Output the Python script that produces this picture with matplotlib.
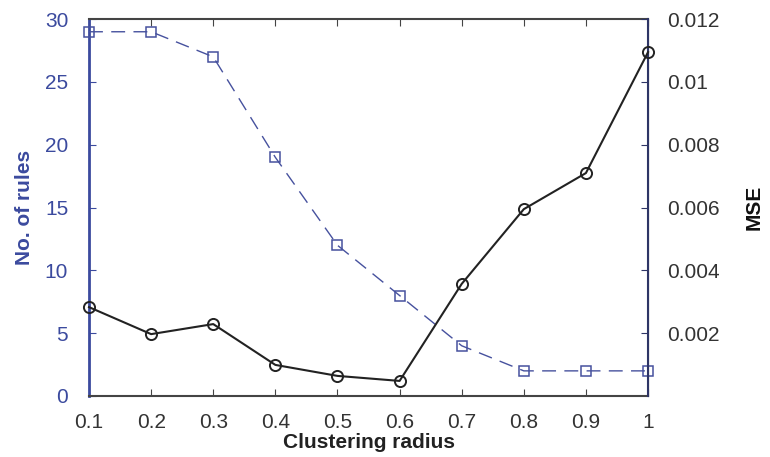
import numpy as np
import matplotlib
matplotlib.use('Agg')
import matplotlib.pyplot as plt

plt.rcParams['font.family'] = ['Liberation Sans', 'DejaVu Sans']

# dados
raio = [0.1, 0.2, 0.3, 0.4, 0.5, 0.6, 0.7, 0.8, 0.9, 1.0]
n_regras = [29, 29, 27, 19, 12, 8, 4, 2, 2, 2]
mse = [0.00283, 0.00197, 0.00229, 0.00099, 0.00064, 0.00048, 0.00357, 0.00595, 0.0071, 0.01095]
ticks_x = [0.1, 0.2, 0.3, 0.4, 0.5, 0.6, 0.7, 0.8, 0.9, 1]
ticks_esq = [0, 5, 10, 15, 20, 25, 30]
ticks_dir = [0.002, 0.004, 0.006, 0.008, 0.01, 0.012]

azul = '#3b4a9e'
azul_linha = '#46519e'
cinza = '#444444'

fig = plt.figure(figsize=(7.7, 4.57), dpi=100)
ax = fig.add_axes([0.1156, 0.1335, 0.7260, 0.8245])
ax2 = ax.twinx()

ax.plot(raio, n_regras, linestyle=(0, (10, 6)), color=azul_linha, lw=1.0,
        marker='s', markersize=7, markerfacecolor='none', markeredgecolor=azul_linha,
        markeredgewidth=1.1, clip_on=False, zorder=3)
ax2.plot(raio, mse, '-', color='#222222', lw=1.5, marker='o', markersize=8,
         markerfacecolor='none', markeredgecolor='#222222', markeredgewidth=1.4,
         clip_on=False, zorder=3)

ax.set_xlim(0.1, 1)
ax.set_ylim(0, 30)
ax2.set_ylim(0, 0.012)

ax.set_xticks(ticks_x)
ax.set_xticklabels([str(t) for t in ticks_x])
ax.set_yticks(ticks_esq)
ax2.set_yticks(ticks_dir)
ax2.set_yticklabels(['0.002', '0.004', '0.006', '0.008', '0.01', '0.012'])

ax.tick_params(axis='x', direction='in', top=True, length=5, labelsize=15,
               colors=cinza, labelcolor='#333333', pad=12)
ax.tick_params(axis='y', direction='in', length=5, labelsize=15,
               colors=azul, labelcolor=azul, pad=15)
ax2.tick_params(axis='y', direction='in', length=5, labelsize=15,
                colors='#2e3566', labelcolor='#333333', pad=14)

for s in ['top', 'bottom']:
    ax.spines[s].set_color(cinza)
    ax.spines[s].set_linewidth(1.5)
ax.spines['left'].set_color(azul)
ax.spines['left'].set_linewidth(2)
ax2.spines['left'].set_visible(False)
ax2.spines['top'].set_visible(False)
ax2.spines['bottom'].set_visible(False)
ax2.spines['right'].set_color('#2e3566')
ax2.spines['right'].set_linewidth(1.5)

ax.set_xlabel('Clustering radius', fontsize=15, fontweight='bold', color='#222222', labelpad=1)
ax.set_ylabel('No. of rules', fontsize=15, fontweight='bold', color=azul, labelpad=8)
ax2.set_ylabel('MSE', fontsize=15, fontweight='bold', color='#111111', labelpad=18)

fig.savefig('out.png', dpi=100)
